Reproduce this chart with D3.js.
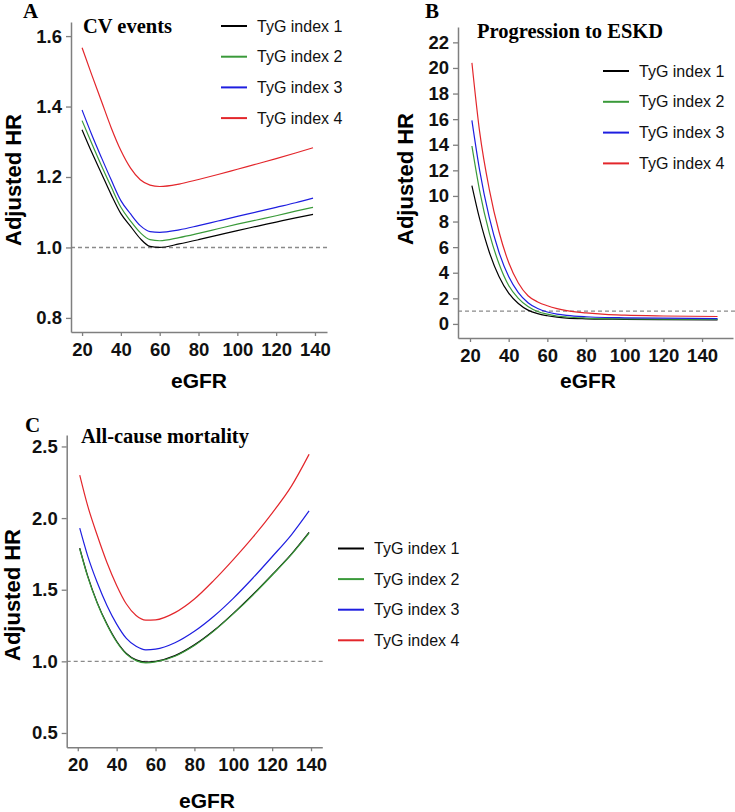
<!DOCTYPE html>
<html><head><meta charset="utf-8">
<script src="https://cdn.jsdelivr.net/npm/d3@7"></script>
<style>
body{margin:0;background:#fff;}
svg{display:block;}
</style></head>
<body>
<svg id="chart" width="735" height="812"></svg>
<script>
// ---------- DATA ----------
const seriesNames = ["TyG index 1","TyG index 2","TyG index 3","TyG index 4"];

// Panel A: CV events
const egfrA = [20,25,30,35,40,45,50,55,60,70,80,90,100,110,120,130,139];
const cvT1 = [1.334,1.27,1.21,1.15,1.096,1.06,1.025,1.003,1.0,1.01,1.022,1.035,1.048,1.06,1.072,1.084,1.094];
const cvT2 = [1.36,1.295,1.232,1.172,1.114,1.075,1.042,1.022,1.019,1.028,1.04,1.053,1.066,1.078,1.09,1.103,1.114];
const cvT3 = [1.39,1.32,1.255,1.192,1.133,1.095,1.062,1.045,1.043,1.05,1.062,1.075,1.088,1.101,1.114,1.127,1.14];
const cvT4 = [1.567,1.49,1.415,1.34,1.275,1.225,1.192,1.177,1.173,1.18,1.193,1.207,1.222,1.237,1.252,1.268,1.283];
const ticksAx = [20,40,60,80,100,120,140];
const ticksAy = [0.8,1.0,1.2,1.4,1.6];

// Panel B: Progression to ESKD
const egfrB = [21,25,30,35,40,45,50,55,60,65,70,80,90,100,120,148];
const eskdT1 = [10.8,8.2,5.6,3.7,2.4,1.6,1.08,0.8,0.64,0.53,0.46,0.4,0.37,0.36,0.34,0.32];
const eskdT2 = [13.9,10.4,7.1,4.7,3.0,2.0,1.36,0.97,0.76,0.62,0.54,0.46,0.42,0.4,0.38,0.36];
const eskdT3 = [15.9,12.0,8.3,5.6,3.7,2.45,1.66,1.2,0.93,0.77,0.67,0.56,0.5,0.48,0.45,0.42];
const eskdT4 = [20.4,15.0,10.5,7.2,4.8,3.2,2.2,1.72,1.42,1.2,1.04,0.86,0.74,0.68,0.62,0.58];
const ticksBx = [20,40,60,80,100,120,140];
const ticksBy = [0,2,4,6,8,10,12,14,16,18,20,22];

// Panel C: All-cause mortality
const egfrC = [21,25,30,35,40,45,50,55,60,70,80,90,100,110,120,130,139];
const mortT1 = [1.79,1.6,1.41,1.26,1.14,1.055,1.01,0.995,1.0,1.04,1.115,1.215,1.335,1.465,1.605,1.75,1.90];
const mortT2 = [1.785,1.595,1.405,1.255,1.135,1.05,1.005,0.99,0.996,1.036,1.111,1.211,1.331,1.461,1.601,1.746,1.895];
const mortT3 = [1.93,1.74,1.55,1.39,1.26,1.16,1.105,1.08,1.085,1.13,1.21,1.315,1.44,1.58,1.73,1.885,2.05];
const mortT4 = [2.30,2.09,1.88,1.69,1.53,1.40,1.32,1.288,1.29,1.34,1.435,1.565,1.71,1.865,2.035,2.225,2.445];
const ticksCx = [20,40,60,80,100,120,140];
const ticksCy = [0.5,1.0,1.5,2.0,2.5];

const colors = ["#000000","#3a9a3a","#1e1ee0","#e3262b"];

// ---------- DRAW ----------
const svg = d3.select("#chart");
const axisColor = "#7f7f7f";
const tickFont = "'Liberation Sans', Arial, sans-serif";

function panel(cfg){
  const g = svg.append("g");
  const x = d3.scaleLinear().domain(cfg.xDomain).range(cfg.xRange);
  const y = d3.scaleLinear().domain(cfg.yDomain).range(cfg.yRange);

  // reference line HR = 1
  g.append("line")
    .attr("x1", cfg.xRange[0]).attr("x2", cfg.refEnd)
    .attr("y1", y(1)).attr("y2", y(1))
    .attr("stroke","#8a8a8a").attr("stroke-width",1.4)
    .attr("stroke-dasharray","4,3");

  // axes
  const xa = g.append("g").attr("transform",`translate(0,${cfg.yRange[0]})`)
    .call(d3.axisBottom(x).tickValues(cfg.xTicks).tickSizeInner(4).tickSizeOuter(0).tickPadding(7).tickFormat(d3.format("d")));
  const ya = g.append("g").attr("transform",`translate(${cfg.xRange[0]},0)`)
    .call(d3.axisLeft(y).tickValues(cfg.yTicks).tickSizeInner(5).tickSizeOuter(0).tickPadding(4).tickFormat(cfg.yFmt));
  [xa,ya].forEach(a=>{
    a.select(".domain").attr("stroke",axisColor).attr("stroke-width",1.5);
    a.selectAll(".tick line").attr("stroke",axisColor).attr("stroke-width",1.3);
    a.selectAll(".tick text").attr("fill","#111").style("font-family",tickFont)
      .style("font-weight","bold").style("font-size","18.5px");
  });

  // lines
  const line = d3.line().x(d=>x(d[0])).y(d=>y(d[1])).curve(d3.curveMonotoneX);
  cfg.series.forEach((vals,i)=>{
    g.append("path")
      .datum(cfg.xs.map((v,j)=>[v,vals[j]]))
      .attr("fill","none").attr("stroke",colors[i]).attr("stroke-width",1.2)
      .attr("d",line);
  });

  // panel letter
  g.append("text").attr("x",cfg.letterPos[0]).attr("y",cfg.letterPos[1])
    .text(cfg.letter).style("font-family","'Liberation Serif','Times New Roman',serif")
    .style("font-weight","bold").style("font-size","21px");
  // title
  g.append("text").attr("x",cfg.titlePos[0]).attr("y",cfg.titlePos[1])
    .text(cfg.title).style("font-family","'Liberation Serif','Times New Roman',serif")
    .style("font-weight","bold").style("font-size","20.5px");
  // y label
  g.append("text").attr("transform",`translate(${cfg.yLabPos[0]},${cfg.yLabPos[1]}) rotate(-90)`)
    .attr("text-anchor","middle").attr("dominant-baseline","central")
    .text("Adjusted HR").style("font-family",tickFont)
    .style("font-weight","bold").style("font-size","22px");
  // x label
  g.append("text").attr("x",cfg.xLabPos[0]).attr("y",cfg.xLabPos[1])
    .attr("text-anchor","middle")
    .text("eGFR").style("font-family",tickFont)
    .style("font-weight","bold").style("font-size","21px");

  // legend
  const lg = g.append("g");
  seriesNames.forEach((s,i)=>{
    const ly = cfg.legend.y0 + i*cfg.legend.dy;
    lg.append("line").attr("x1",cfg.legend.x).attr("x2",cfg.legend.x+26)
      .attr("y1",ly).attr("y2",ly).attr("stroke",colors[i]).attr("stroke-width",2);
    lg.append("text").attr("x",cfg.legend.x+36).attr("y",ly+5.5)
      .text(s).style("font-family",tickFont).style("font-size","16px").attr("fill","#111");
  });
}

panel({
  xDomain:[14.3,146.2], xRange:[71,327],
  yDomain:[0.76,1.64], yRange:[332,22],
  refEnd:328, xTicks:ticksAx, yTicks:ticksAy, yFmt:d3.format(".1f"),
  xs:egfrA, series:[cvT1,cvT2,cvT3,cvT4],
  letter:"A", letterPos:[23,18], title:"CV events", titlePos:[83,33],
  yLabPos:[13,180], xLabPos:[199,388],
  legend:{x:221,y0:26,dy:30.7}
});

panel({
  xDomain:[13.8,156], xRange:[458,733],
  yDomain:[-1.1,23.2], yRange:[338,27],
  refEnd:735, xTicks:ticksBx, yTicks:ticksBy, yFmt:d3.format("d"),
  xs:egfrB, series:[eskdT1,eskdT2,eskdT3,eskdT4],
  letter:"B", letterPos:[425,18], title:"Progression to ESKD", titlePos:[477,38],
  yLabPos:[405,179], xLabPos:[588,388],
  legend:{x:603,y0:71,dy:30.8}
});

panel({
  xDomain:[14.3,145.8], xRange:[66.7,322.3],
  yDomain:[0.40,2.58], yRange:[747.3,435],
  refEnd:323, xTicks:ticksCx, yTicks:ticksCy, yFmt:d3.format(".1f"),
  xs:egfrC, series:[mortT1,mortT2,mortT3,mortT4],
  letter:"C", letterPos:[25,432], title:"All-cause mortality", titlePos:[81,443],
  yLabPos:[12,595], xLabPos:[207,808],
  legend:{x:338,y0:548.5,dy:30.6}
});
</script>
</body></html>
